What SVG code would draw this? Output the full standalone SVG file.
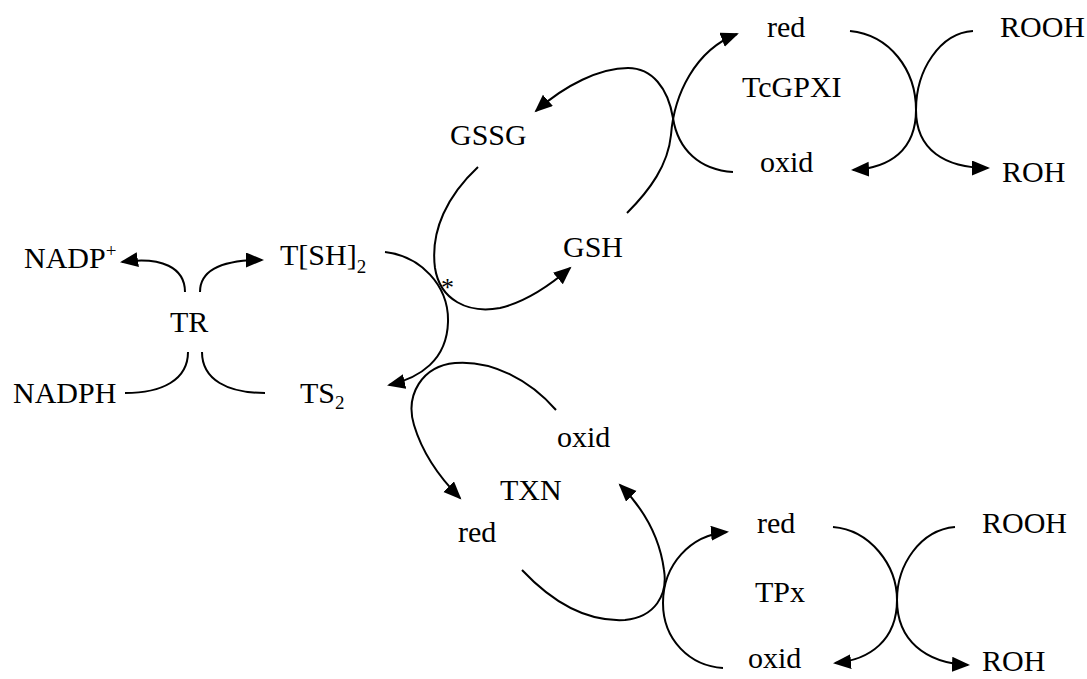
<svg xmlns="http://www.w3.org/2000/svg" width="1087" height="679" viewBox="0 0 1087 679">
<style>
text{font-family:"Liberation Serif","Times New Roman",serif;font-size:30px;fill:#000}
.sub{font-size:19px}
.ast{font-size:26px}
.c{fill:none;stroke:#000;stroke-width:2}
.a{marker-end:url(#ah)}
</style>
<defs>
<marker id="ah" markerUnits="userSpaceOnUse" markerWidth="20" markerHeight="16" refX="16" refY="7.5" orient="auto">
<path d="M0,0 L18,7.5 L0,15 z" fill="#000"/>
</marker>
</defs>
<rect width="1087" height="679" fill="#fff"/>
<g id="connectors">
<path class="c a" d="M185,292 C185,268 162,256 122,262"/>
<path class="c a" d="M200,292 C200,270 222,260 262,260"/>
<path class="c" d="M125,393 C162,393 188,380 188,352"/>
<path class="c" d="M265,393 C228,393 202,380 202,352"/>
<path class="c a" d="M385,252 C420,256 449,285 448,322 C447,360 420,378 389,385"/>
<path class="c a" d="M478,167 C448,195 430,230 435,268 C440,300 468,314 500,308 C525,302 548,287 570,268"/>
<path class="c a" d="M627,213 C650,190 668,165 671,135 C674,95 695,50 737,34"/>
<path class="c a" d="M733,172 C700,170 678,150 673,118 C668,88 652,68 628,68 C600,68 565,85 536,111"/>
<path class="c a" d="M850,31 C890,35 916,70 916,110 C916,150 890,168 853,170"/>
<path class="c a" d="M973,31 C940,33 916,70 916,110 C916,150 945,168 988,168"/>
<path class="c a" d="M556,410 C530,380 492,360 455,363 C422,366 405,395 414,425 C423,455 442,480 460,498"/>
<path class="c a" d="M522,570 C555,605 590,622 625,620 C655,617 668,595 664,570 C660,540 645,510 620,485"/>
<path class="c a" d="M723,668 C690,666 663,640 663,603 C663,565 690,535 727,532"/>
<path class="c a" d="M833,527 C870,530 897,565 897,600 C897,640 870,660 835,663"/>
<path class="c a" d="M955,527 C920,530 897,565 897,600 C897,640 925,663 968,665"/>
</g>
<g id="node-NADPplus"><text x="24" y="268">NADP<tspan class="sub" dy="-11">+</tspan></text></g>
<g id="node-TR"><text x="170" y="332">TR</text></g>
<g id="node-NADPH"><text x="13" y="403">NADPH</text></g>
<g id="node-TSH2"><text x="280" y="265">T[SH]<tspan class="sub" dy="8">2</tspan></text></g>
<g id="node-TS2"><text x="300" y="403">TS<tspan class="sub" dy="6">2</tspan></text></g>
<g id="node-GSSG"><text x="450" y="145">GSSG</text></g>
<g id="node-GSH"><text x="563" y="257">GSH</text></g>
<g id="node-asterisk"><text class="ast" x="441" y="296">*</text></g>
<g id="node-TcGPXI-red"><text x="767" y="37">red</text></g>
<g id="node-TcGPXI"><text x="742" y="97">TcGPXI</text></g>
<g id="node-TcGPXI-oxid"><text x="760" y="172">oxid</text></g>
<g id="node-ROOH-top"><text x="1000" y="37">ROOH</text></g>
<g id="node-ROH-top"><text x="1002" y="182">ROH</text></g>
<g id="node-TXN-oxid"><text x="557" y="447">oxid</text></g>
<g id="node-TXN"><text x="500" y="500">TXN</text></g>
<g id="node-TXN-red"><text x="458" y="542">red</text></g>
<g id="node-TPx-red"><text x="757" y="533">red</text></g>
<g id="node-TPx"><text x="755" y="602">TPx</text></g>
<g id="node-TPx-oxid"><text x="748" y="668">oxid</text></g>
<g id="node-ROOH-bottom"><text x="982" y="533">ROOH</text></g>
<g id="node-ROH-bottom"><text x="982" y="671">ROH</text></g>
</svg>
